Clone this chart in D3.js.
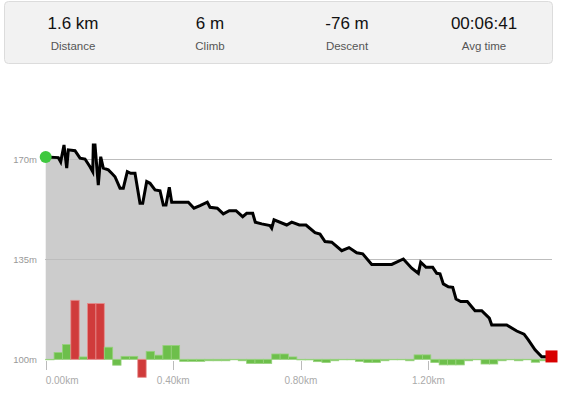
<!DOCTYPE html>
<html>
<head>
<meta charset="utf-8">
<script src="https://cdn.jsdelivr.net/npm/d3@7"></script>
<style>
body{margin:0;background:#fff;font-family:"Liberation Sans",Arial,sans-serif;}
</style>
</head>
<body>
<svg id="chart" width="563" height="397"></svg>
<script>
// summary boxes
var statValues = ["1.6 km", "6 m", "-76 m", "00:06:41"];
var statLabels = ["Distance", "Climb", "Descent", "Avg time"];

// elevation profile, km / m
var distKm = [0, 0.0395, 0.047, 0.0574, 0.0659, 0.0709, 0.0919, 0.1076, 0.1232, 0.1389,
	0.1474, 0.1493, 0.1546, 0.1649, 0.1725, 0.1806, 0.1963, 0.2070, 0.2173, 0.2330,
	0.2433, 0.2559, 0.2665, 0.2800, 0.2957, 0.3042, 0.3167, 0.3271, 0.3428, 0.3584,
	0.3688, 0.3772, 0.3876, 0.3951, 0.4472, 0.4650, 0.4839, 0.5067, 0.5152, 0.5381,
	0.5569, 0.5757, 0.5967, 0.6177, 0.6303, 0.6491, 0.6573, 0.6773, 0.7034, 0.7087,
	0.7159, 0.7557, 0.7714, 0.7952, 0.8162, 0.8445, 0.8601, 0.8758, 0.8968, 0.9282,
	0.9511, 0.9752, 0.9940, 1.0223, 1.0850, 1.1214, 1.1477, 1.1684, 1.1759, 1.1925,
	1.2135, 1.2261, 1.2364, 1.2468, 1.2625, 1.2763, 1.2866, 1.3014, 1.3220, 1.3462,
	1.3672, 1.3910, 1.3986, 1.4456, 1.4770, 1.4999, 1.5133, 1.5344, 1.5554, 1.5710, 1.586];
var elevM = [170.8, 170.6, 169.1, 175.0, 166.9, 173.3, 173.0, 170.4, 170.1, 167.4,
	165.7, 175.0, 175.0, 161.0, 170.9, 166.9, 166.3, 165.1, 163.9, 159.9,
	159.9, 165.7, 165.1, 165.1, 154.6, 154.6, 162.2, 161.6, 159.3, 159.0,
	154.0, 154.0, 160.2, 155.0, 155.0, 152.9, 153.8, 155.0, 153.2, 152.9,
	150.9, 152.0, 152.0, 149.9, 151.1, 151.1, 148.0, 147.4, 146.8, 145.9,
	148.8, 147.0, 148.0, 147.0, 147.0, 144.3, 143.8, 141.2, 141.0, 138.0,
	139.1, 137.3, 136.9, 133.2, 133.2, 135.1, 131.9, 130.1, 134.0, 132.2,
	132.2, 130.1, 129.9, 126.4, 125.4, 125.2, 121.1, 120.2, 120.2, 117.0,
	117.0, 114.4, 112.0, 112.0, 109.9, 108.8, 106.8, 103.3, 100.9, 100.9, 101.0];

// grade per segment, %
var gradeStepKm = 0.02625;
var gradePct = [0, 2.3, 5.0, 20.0, 0.8, 18.9, 18.9, 4.1, -2.0, 1.0,
	1.0, -6.1, 2.7, 1.4, 4.7, 4.7, -0.7, -0.7, -0.7, -0.5,
	-0.5, -0.5, 0, -0.5, -1.4, -1.4, -1.4, 1.8, 1.8, 0.8,
	-0.2, -0.2, -0.8, -1.1, -0.5, 0, 0, -0.7, -1.1, -1.1,
	-0.5, 0, 0, -0.5, 1.5, 1.5, -1.1, -1.9, -1.9, -1.9,
	-0.5, 0, -1.6, -1.6, -0.5, 0, -0.5, 0, -1.0, -0.5];

var yTicks = [100, 135, 170];
var xTicks = [0, 0.4, 0.8, 1.2];

var svg = d3.select("#chart");

// ---- stat box
var boxX = 4.5, boxW = 548, colW = boxW / 4;
svg.append("rect")
	.attr("x", boxX).attr("y", 1.5)
	.attr("width", boxW).attr("height", 62)
	.attr("rx", 4)
	.attr("fill", "#f2f2f2")
	.attr("stroke", "#dcdcdc");

statValues.forEach(function(v, i){
	var cx = boxX + colW * i + colW / 2;
	svg.append("text")
		.attr("x", cx).attr("y", 29)
		.attr("text-anchor", "middle")
		.attr("font-size", "17px")
		.attr("fill", "#111")
		.text(v);
	svg.append("text")
		.attr("x", cx).attr("y", 50)
		.attr("text-anchor", "middle")
		.attr("font-size", "11.5px")
		.attr("fill", "#555")
		.text(statLabels[i]);
});

// ---- scales
var x = d3.scaleLinear().domain([0, 1.586]).range([45.7, 551.5]);
var y = d3.scaleLinear().domain([100, 170]).range([359.3, 159.3]);
var g = d3.scaleLinear().domain([0, 20]).range([359.3, 300.3]);

var pts = distKm.map(function(d, i){ return [d, elevM[i]]; });

// area
svg.append("path")
	.datum(pts)
	.attr("fill", "#cccccc")
	.attr("d", d3.area()
		.x(function(d){ return x(d[0]); })
		.y0(y(100))
		.y1(function(d){ return y(d[1]); }));

// grid
svg.append("g")
	.selectAll("line")
	.data(yTicks)
	.enter().append("line")
	.attr("x1", 45).attr("x2", 552)
	.attr("y1", function(d){ return Math.round(y(d)) + 0.5; })
	.attr("y2", function(d){ return Math.round(y(d)) + 0.5; })
	.attr("stroke", function(d){ return d === 100 ? "#e4e4e4" : "#bdbdbd"; })
	.attr("stroke-width", 1);

svg.append("g")
	.selectAll("text")
	.data(yTicks)
	.enter().append("text")
	.attr("x", 37)
	.attr("y", function(d){ return y(d) + 3.5; })
	.attr("text-anchor", "end")
	.attr("font-size", "9.5px")
	.attr("fill", "#999")
	.text(function(d){ return d + "m"; });

// grade bars
svg.append("g")
	.selectAll("rect")
	.data(gradePct)
	.enter().append("rect")
	.attr("x", function(d, i){ return x(i * gradeStepKm); })
	.attr("width", function(d, i){ return x((i + 1) * gradeStepKm) - x(i * gradeStepKm); })
	.attr("y", function(d){ return d >= 0 ? g(d) : g(0); })
	.attr("height", function(d){ return Math.max(Math.abs(g(d) - g(0)), 0.5); })
	.attr("fill", function(d){ return Math.abs(d) >= 6 ? "#d03b3b" : "#6dbf4b"; })
	.attr("stroke", function(d){ return Math.abs(d) >= 6 ? "#e58a8a" : "#96d27c"; })
	.attr("stroke-width", 0.8);

// x axis
var xa = svg.append("g");
xa.selectAll("line")
	.data(xTicks)
	.enter().append("line")
	.attr("x1", function(d){ return Math.round(x(d)) + 0.5; })
	.attr("x2", function(d){ return Math.round(x(d)) + 0.5; })
	.attr("y1", 361).attr("y2", 370)
	.attr("stroke", "#bbb");
xa.selectAll("text")
	.data(xTicks)
	.enter().append("text")
	.attr("x", function(d){ return x(d); })
	.attr("y", 384)
	.attr("text-anchor", function(d, i){ return i === 0 ? "start" : "middle"; })
	.attr("font-size", "10px")
	.attr("fill", "#aaa")
	.text(function(d){ return d3.format(".2f")(d) + "km"; });

// elevation line
svg.append("path")
	.datum(pts)
	.attr("fill", "none")
	.attr("stroke", "#000")
	.attr("stroke-width", 3)
	.attr("d", d3.line()
		.x(function(d){ return x(d[0]); })
		.y(function(d){ return y(d[1]); }));

// start / end markers
var first = pts[0], last = pts[pts.length - 1];
svg.append("circle")
	.attr("cx", x(first[0])).attr("cy", y(first[1]))
	.attr("r", 6)
	.attr("fill", "#3fc83f");
svg.append("rect")
	.attr("x", x(last[0]) - 6).attr("y", y(last[1]) - 6)
	.attr("width", 12).attr("height", 12)
	.attr("fill", "#d80000");
</script>
</body>
</html>
